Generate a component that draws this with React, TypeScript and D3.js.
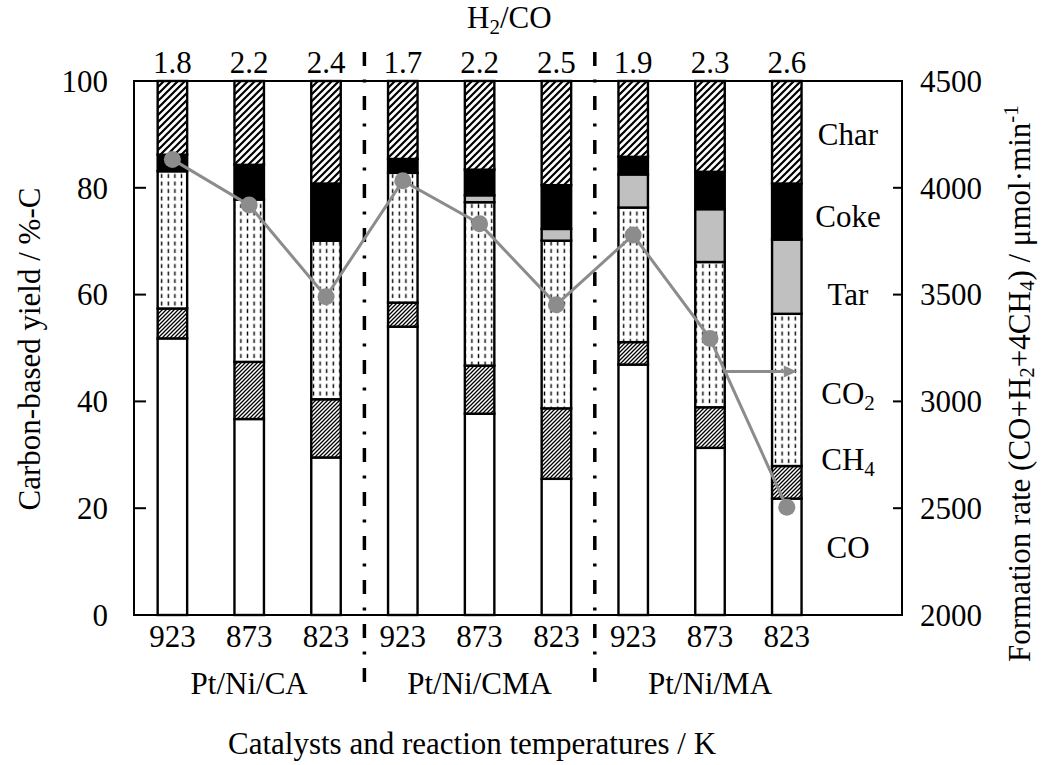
import React from "react";
import * as d3 from "d3";

const temperatures = ["923", "873", "823", "923", "873", "823", "923", "873", "823"];
const catalysts = ["Pt/Ni/CA", "Pt/Ni/CMA", "Pt/Ni/MA"];
const h2coRatios = ["1.8", "2.2", "2.4", "1.7", "2.2", "2.5", "1.9", "2.3", "2.6"];
const coYield = [51.8, 36.7, 29.5, 54.0, 37.7, 25.5, 46.9, 31.3, 21.8];
const ch4Yield = [5.6, 10.7, 10.9, 4.5, 9.0, 13.2, 4.2, 7.6, 6.1];
const co2Yield = [25.7, 30.4, 29.7, 24.3, 30.6, 31.4, 25.2, 27.2, 28.5];
const tarYield = [0, 0, 0, 0, 1.3, 2.2, 6.2, 9.9, 13.9];
const cokeYield = [3.1, 6.5, 10.7, 2.6, 4.8, 8.2, 3.3, 7.0, 10.5];
const charYield = [13.8, 15.7, 19.2, 14.6, 16.6, 19.5, 14.2, 17.0, 19.2];
const formationRate = [4133, 3919, 3490, 4033, 3832, 3453, 3779, 3295, 2504];
const arrowRate = 3140;
const leftTicks = [0, 20, 40, 60, 80, 100];
const rightTicks = [2000, 2500, 3000, 3500, 4000, 4500];
const seriesKeys = ["CO", "CH4", "CO2", "Tar", "Coke", "Char"];

const W = 1042;
const H = 765;
const L = 134, R = 902, T = 81, B = 615;
const FONT = "'Liberation Serif', 'Times New Roman', serif";
const FS = 31;
const SUB = 21;
const GRAY = "#8c8c8c";

export default function App() {
  const idx = d3.range(temperatures.length);
  const x = d3
    .scaleBand<number>()
    .domain(idx)
    .range([L, L + (R - L) * 0.9])
    .paddingInner(0.616)
    .paddingOuter(0.308);
  const y = d3.scaleLinear().domain([0, 100]).range([B, T]);
  const yR = d3.scaleLinear().domain([2000, 4500]).range([B, T]);
  const cx = (i: number) => (x(i) as number) + x.bandwidth() / 2;

  const rows = idx.map((i) => ({
    CO: coYield[i],
    CH4: ch4Yield[i],
    CO2: co2Yield[i],
    Tar: tarYield[i],
    Coke: cokeYield[i],
    Char: charYield[i],
  }));
  const stack = d3.stack<any>().keys(seriesKeys)(rows);
  const fills: Record<string, string> = {
    CO: "#ffffff",
    CH4: "url(#hatchFine)",
    CO2: "url(#dashV)",
    Tar: "#c0c0c0",
    Coke: "#000000",
    Char: "url(#hatchWide)",
  };

  const line = d3
    .line<number>()
    .x((d, i) => cx(i))
    .y((d) => yR(d));

  const dividerXs = [2, 5].map((i) => (cx(i) + cx(i + 1)) / 2);

  const ay = yR(arrowRate);
  const p1 = [cx(7), yR(formationRate[7])];
  const p2 = [cx(8), yR(formationRate[8])];
  const ax1 = p1[0] + ((ay - p1[1]) / (p2[1] - p1[1])) * (p2[0] - p1[0]);
  const ax2 = cx(8) + 10;

  const legendLabels: { key: string; v: number }[] = [
    { key: "CO", v: 12.7 },
    { key: "CH4", v: 29.2 },
    { key: "CO2", v: 41.6 },
    { key: "Tar", v: 60 },
    { key: "Coke", v: 74.7 },
    { key: "Char", v: 90 },
  ];
  const legendX = 848;

  const renderLabel = (k: string) => {
    if (k === "CH4")
      return (
        <>
          CH<tspan fontSize={SUB} dy={6}>4</tspan>
        </>
      );
    if (k === "CO2")
      return (
        <>
          CO<tspan fontSize={SUB} dy={6}>2</tspan>
        </>
      );
    return k;
  };

  return (
    <svg
      width={W}
      height={H}
      style={{ position: "absolute", left: 0, top: 0, background: "#fff" }}
      fontFamily={FONT}
    >
      <defs>
        <pattern id="hatchWide" patternUnits="userSpaceOnUse" width={7} height={7}>
          <rect width={7} height={7} fill="#fff" />
          <path d="M-1,1 l2,-2 M0,7 l7,-7 M6,8 l2,-2" stroke="#000" strokeWidth={2.2} />
        </pattern>
        <pattern id="hatchFine" patternUnits="userSpaceOnUse" width={4} height={4}>
          <rect width={4} height={4} fill="#fff" />
          <path d="M-1,1 l2,-2 M0,4 l4,-4 M3,5 l2,-2" stroke="#000" strokeWidth={1.3} />
        </pattern>
        <pattern id="dashV" patternUnits="userSpaceOnUse" width={6.6} height={7.5}>
          <rect width={6.6} height={7.5} fill="#fff" />
          <rect x={2.6} y={1.5} width={1.4} height={4} fill="#000" />
        </pattern>
      </defs>

      <rect x={L} y={T} width={R - L} height={B - T} fill="none" stroke="#000" strokeWidth={2} />

      {leftTicks.map((t) => (
        <g key={"lt" + t}>
          <line x1={L} x2={L + 12} y1={y(t)} y2={y(t)} stroke="#000" strokeWidth={2} />
          <text x={108} y={y(t)} dy="0.35em" textAnchor="end" fontSize={FS}>
            {t}
          </text>
        </g>
      ))}
      {rightTicks.map((t) => (
        <g key={"rt" + t}>
          <line x1={R - 9} x2={R} y1={yR(t)} y2={yR(t)} stroke="#000" strokeWidth={2} />
          <text x={920} y={yR(t)} dy="0.35em" textAnchor="start" fontSize={FS}>
            {t}
          </text>
        </g>
      ))}

      {stack.map((s) => (
        <g key={s.key}>
          {s.map((d, i) =>
            d[1] - d[0] > 0 ? (
              <rect
                key={i}
                x={x(i)}
                width={x.bandwidth()}
                y={y(d[1])}
                height={y(d[0]) - y(d[1])}
                fill={fills[s.key]}
                stroke="#000"
                strokeWidth={2.4}
              />
            ) : null
          )}
        </g>
      ))}

      {dividerXs.map((dx, i) => (
        <line
          key={"dv" + i}
          x1={dx}
          x2={dx}
          y1={52}
          y2={692}
          stroke="#000"
          strokeWidth={3.5}
          strokeDasharray="14,13.5,3,13.5"
        />
      ))}

      <path d={line(formationRate) || ""} fill="none" stroke={GRAY} strokeWidth={3} />
      {formationRate.map((v, i) => (
        <circle key={"pt" + i} cx={cx(i)} cy={yR(v)} r={8.5} fill={GRAY} />
      ))}
      <line x1={ax1} x2={ax2 - 10} y1={ay} y2={ay} stroke={GRAY} strokeWidth={3} />
      <path d={`M${ax2},${ay} L${ax2 - 13},${ay - 6} L${ax2 - 13},${ay + 6} Z`} fill={GRAY} />

      {legendLabels.map((l) => (
        <text key={l.key} x={legendX} y={y(l.v)} dy="0.35em" textAnchor="middle" fontSize={FS}>
          {renderLabel(l.key)}
        </text>
      ))}

      {h2coRatios.map((r, i) => (
        <text key={"r" + i} x={cx(i)} y={73} textAnchor="middle" fontSize={FS}>
          {r}
        </text>
      ))}
      <text x={467} y={28} textAnchor="start" fontSize={FS}>
        H<tspan fontSize={SUB} dy={6}>2</tspan>
        <tspan dy={-6}>/CO</tspan>
      </text>

      {temperatures.map((t, i) => (
        <text key={"t" + i} x={cx(i)} y={647} textAnchor="middle" fontSize={FS}>
          {t}
        </text>
      ))}
      {catalysts.map((c, g) => (
        <text key={"c" + g} x={cx(g * 3 + 1)} y={694} textAnchor="middle" fontSize={FS}>
          {c}
        </text>
      ))}
      <text x={228} y={754} textAnchor="start" fontSize={FS}>
        Catalysts and reaction temperatures / K
      </text>

      <text transform={`translate(40,349) rotate(-90)`} textAnchor="middle" fontSize={FS}>
        Carbon-based yield / %-C
      </text>
      <text transform={`translate(1030,662) rotate(-90)`} textAnchor="start" fontSize={FS}>
        Formation rate (CO+H<tspan fontSize={SUB} dy={4}>2</tspan>
        <tspan dy={-4}>+4CH</tspan>
        <tspan fontSize={SUB} dy={4}>4</tspan>
        <tspan dy={-4}>) / μmol·min</tspan>
        <tspan fontSize={SUB} dy={-12}>-1</tspan>
      </text>
    </svg>
  );
}
